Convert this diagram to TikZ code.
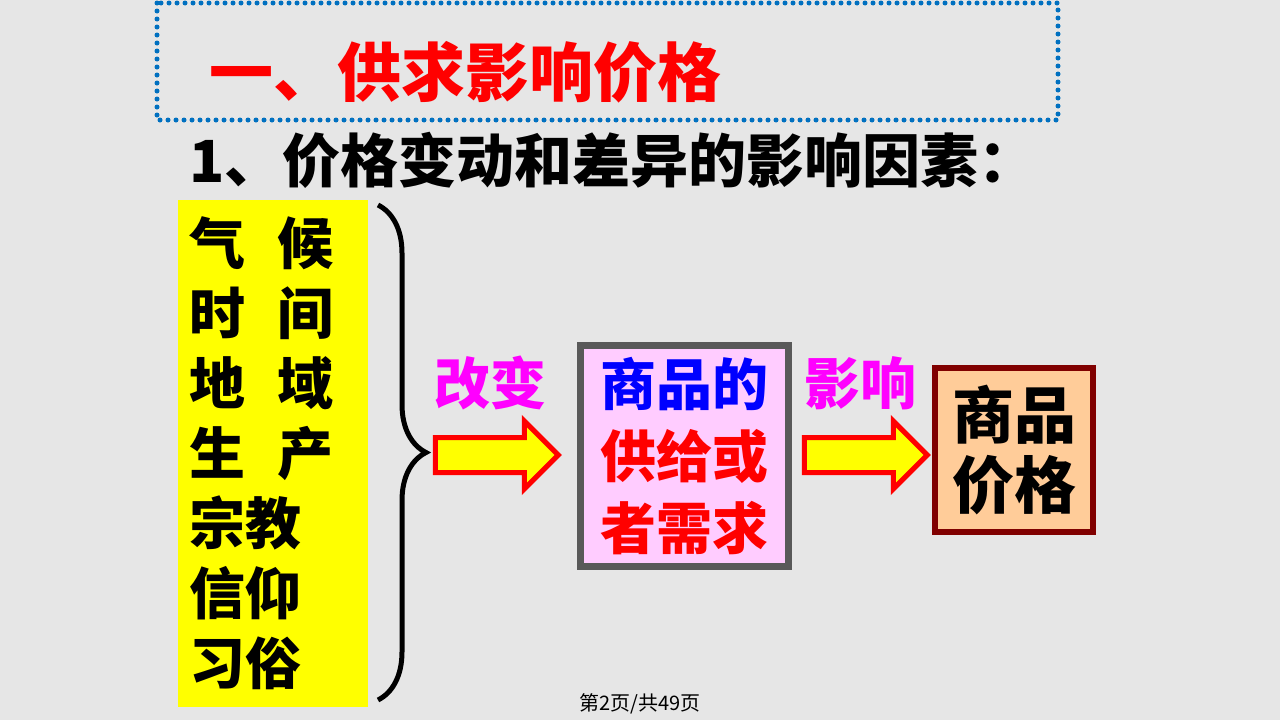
\documentclass[tikz,border=0pt]{standalone}
\usepackage{fontspec}
\newfontfamily\cjk{Noto Sans CJK SC}
\usetikzlibrary{shapes.arrows,decorations.pathreplacing}
\definecolor{slidebg}{HTML}{E6E6E6}
\definecolor{dotblue}{HTML}{0070C0}
\definecolor{pinkfill}{HTML}{FFCCFF}
\definecolor{peachfill}{HTML}{FFCC99}
\definecolor{boxgray}{HTML}{595959}
\definecolor{boxred}{HTML}{800000}
\definecolor{hiyellow}{HTML}{FFFF00}
\definecolor{hired}{HTML}{FF0000}
\definecolor{hiblue}{HTML}{0000FF}
\definecolor{himagenta}{HTML}{FF00FF}
\newcommand{\fs}[1]{\fontsize{#1}{#1}\selectfont}

\begin{document}
\begin{tikzpicture}[x=1pt,y=-1pt,
  blockarr/.style={single arrow,draw=hired,fill=hiyellow,line width=5pt,inner sep=15pt,
    single arrow head extend=16.5pt,minimum height=123pt},
  verb/.style={text=himagenta,font=\cjk\bfseries\fs{56}}]
  \fill[slidebg] (0,0) rectangle (1280,720);
  \useasboundingbox (0,0) rectangle (1280,720);
  \draw[dotblue,line width=5pt,line cap=round,dash pattern=on 0pt off 8pt]
    (157,3) rectangle (1058,120);
  \node[text=hired,font=\cjk\bfseries\fs{64},anchor=west] (title) at (206,72) {一、供求影响价格};
  \node[font=\cjk\bfseries\fs{58},anchor=west] (subtitle) at (186,160) {1、价格变动和差异的影响因素：};
  \node[fill=hiyellow,anchor=north west,minimum height=507pt,text width=168pt,
        inner xsep=11pt,inner ysep=0pt,align=left,font=\cjk\bfseries\fontsize{56}{70}\selectfont]
    (factors) at (178,200)
    {气\hspace{32pt}候\\时\hspace{32pt}间\\地\hspace{32pt}域\\生\hspace{32pt}产\\宗教\\信仰\\习俗};
  \coordinate (bracetop) at (378,205);
  \coordinate (bracebot) at (378,700);
  \draw[line width=5pt,decorate,decoration={brace,amplitude=48pt,aspect=0.5}]
    (bracetop) -- (bracebot);
  \node[blockarr] (arrA) at (488,455) {};
  \node[verb] (change) at (490,383) {改变};
  \node[draw=boxgray,fill=pinkfill,line width=7pt,minimum width=208pt,minimum height=221pt,
        align=center,inner sep=0pt,font=\cjk\bfseries\fontsize{56}{72}\selectfont]
    (supply) at (684.5,456)
    {\textcolor{hiblue}{商品的}\\\textcolor{hired}{供给或}\\\textcolor{hired}{者需求}};
  \node[blockarr] (arrB) at (857,455) {};
  \node[verb] (affect) at (860,383) {影响};
  \node[draw=boxred,fill=peachfill,line width=6pt,minimum width=158pt,minimum height=164pt,
        align=center,inner sep=0pt,font=\cjk\bfseries\fontsize{62}{70}\selectfont]
    (price) at (1014,450) {商品\\价格};
  \node[font=\cjk\fs{20}] (footer) at (640,704) {第2页/共49页};
\end{tikzpicture}
\end{document}
